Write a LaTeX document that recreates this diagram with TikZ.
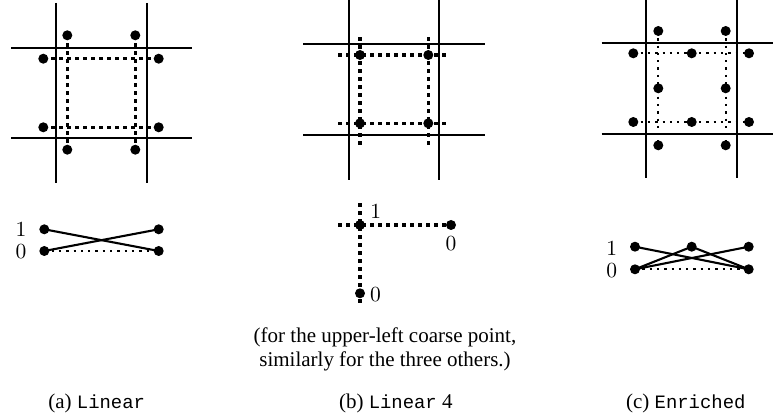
\documentclass[tikz,border=0pt]{standalone}
\usepackage{fontspec}
\setmainfont{Liberation Serif}
\setmonofont{Liberation Mono}[Scale=0.9]
\newfontfamily\digitfont{lmroman10-regular.otf}
\begin{document}
\begin{tikzpicture}[x=1pt,y=-1pt,
  gridline/.style={line width=2pt},
  pt/.style={circle,fill=black,inner sep=0pt,minimum size=10pt},
  fatdots/.style={line width=3.4pt,dash pattern=on 3.4pt off 4.6pt},
  thindots/.style={line width=2.3pt,dash pattern=on 2.3pt off 5pt},
  solidedge/.style={line width=2.1pt},
  lab/.style={inner sep=0pt,font=\fontsize{21.5}{24}\digitfont},
  captext/.style={inner sep=0pt,font=\fontsize{21}{23.5}\selectfont}]
\useasboundingbox (0,0) rectangle (773,419);
% ---------- (a) ----------
\draw[gridline] (56,3) -- (56,183);
\draw[gridline] (147,3) -- (147,183);
\draw[gridline] (11,47.7) -- (192,47.7);
\draw[gridline] (11,137.7) -- (192,137.7);
\node[pt] (aT1) at (67.3,35.3) {};
\node[pt] (aT2) at (135.3,35.3) {};
\node[pt] (aB1) at (67.3,149.7) {};
\node[pt] (aB2) at (135.3,149.7) {};
\node[pt] (aL1) at (43.3,58.7) {};
\node[pt] (aL2) at (43.3,127.3) {};
\node[pt] (aR1) at (158.7,58.7) {};
\node[pt] (aR2) at (158.7,127.3) {};
\draw[fatdots] (aT1.center) -- (aB1.center);
\draw[fatdots] (aT2.center) -- (aB2.center);
\draw[fatdots] (aL1.center) -- (aR1.center);
\draw[fatdots] (aL2.center) -- (aR2.center);
% bottom (a)
\node[pt] (a1l) at (44.3,229.3) {};
\node[pt] (a1r) at (158.7,229.3) {};
\node[pt] (a0l) at (44.3,251) {};
\node[pt] (a0r) at (158.7,251) {};
\node[lab] (a1lab) at (21,229.3) {1};
\node[lab] (a0lab) at (21,252) {0};
\draw[solidedge] (a1l.center) -- (a0r.center);
\draw[solidedge] (a0l.center) -- (a1r.center);
\draw[thindots] (a0l.center) -- (a0r.center);
\node[captext] (capa) at (96.7,403) {(a) \texttt{Linear}};
% ---------- (b) ----------
\draw[gridline] (349.3,0) -- (349.3,180);
\draw[gridline] (439.3,0) -- (439.3,180);
\draw[gridline] (303.3,44.3) -- (485,44.3);
\draw[gridline] (303.3,135) -- (485,135);
\coordinate (bh1s) at (338.3,55);
\coordinate (bh1e) at (446.7,55);
\coordinate (bh2s) at (338.3,123.3);
\coordinate (bh2e) at (446.7,123.3);
\coordinate (bv1s) at (360,37.3);
\coordinate (bv1e) at (360,145);
\coordinate (bv2s) at (428.3,37.3);
\coordinate (bv2e) at (428.3,145);
\draw[fatdots] (bh1s) -- (bh1e);
\draw[fatdots] (bh2s) -- (bh2e);
\draw[fatdots] (bv1s) -- (bv1e);
\draw[fatdots] (bv2s) -- (bv2e);
\node[pt] (bUL) at (360,55) {};
\node[pt] (bUR) at (428.3,55) {};
\node[pt] (bLL) at (360,123.3) {};
\node[pt] (bLR) at (428.3,123.3) {};
% bottom (b)
\coordinate (bhs) at (338.3,225);
\coordinate (bvs) at (360,203.3);
\coordinate (bve) at (360,303.3);
\node[pt] (bc) at (360,225) {};
\node[pt] (br) at (451,225) {};
\node[pt] (bd) at (360,293.3) {};
\draw[fatdots] (bhs) -- (br.center);
\draw[fatdots] (bvs) -- (bve);
\node[lab] (b1lab) at (375.7,211) {1};
\node[lab] (b0lab) at (451,244) {0};
\node[lab] (b0lab2) at (375.5,295) {0};
\node[captext,align=center] (note) at (385,349.5) {(for the upper-left coarse point,\\ similarly for the three others.)};
\node[captext] (capb) at (395.8,403) {(b) \texttt{Linear} 4};
% ---------- (c) ----------
\draw[gridline] (646,0) -- (646,178);
\draw[gridline] (736.7,0) -- (736.7,178);
\draw[gridline] (601.7,42.7) -- (773,42.7);
\draw[gridline] (601.7,134) -- (773,134);
\node[pt] (cT1) at (658.3,31) {};
\node[pt] (cT2) at (725.7,31) {};
\node[pt] (cB1) at (658.3,145.3) {};
\node[pt] (cB2) at (725.7,145.3) {};
\node[pt] (cL1) at (633.3,53.3) {};
\node[pt] (cL2) at (633.3,122) {};
\node[pt] (cR1) at (749,53.3) {};
\node[pt] (cR2) at (749,122) {};
\node[pt] (cMT) at (691.7,53.3) {};
\node[pt] (cMB) at (691.7,122) {};
\node[pt] (cML) at (658.3,88.3) {};
\node[pt] (cMR) at (725.7,88.3) {};
\draw[thindots] (cT1.center) -- (cB1.center);
\draw[thindots] (cT2.center) -- (cB2.center);
\draw[thindots] (cL1.center) -- (cR1.center);
\draw[thindots] (cL2.center) -- (cR2.center);
% bottom (c)
\node[pt] (c1l) at (635,246.7) {};
\node[pt] (c1m) at (691.7,246.7) {};
\node[pt] (c1r) at (748.7,246.7) {};
\node[pt] (c0l) at (635,269.3) {};
\node[pt] (c0r) at (748.7,269.3) {};
\node[lab] (c1lab) at (611.7,248) {1};
\node[lab] (c0lab) at (611.7,271) {0};
\draw[solidedge] (c1l.center) -- (c0r.center);
\draw[solidedge] (c0l.center) -- (c1m.center);
\draw[solidedge] (c0l.center) -- (c1r.center);
\draw[solidedge] (c1m.center) -- (c0r.center);
\draw[thindots] (c0l.center) -- (c0r.center);
\node[captext] (capc) at (685.8,403) {(c) \texttt{Enriched}};
\end{tikzpicture}
\end{document}
